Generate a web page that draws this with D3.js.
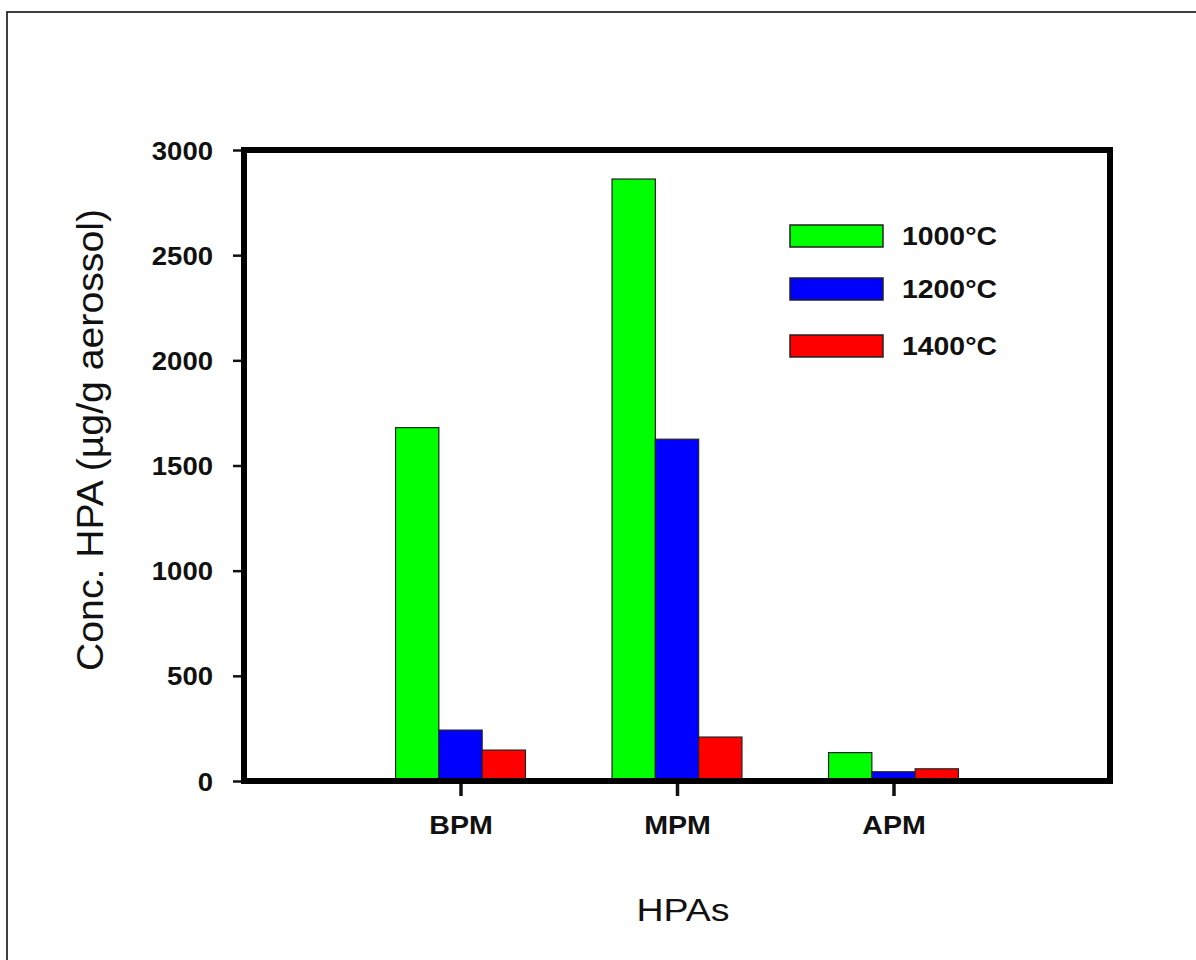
<!DOCTYPE html>
<html>
<head>
<meta charset="utf-8">
<script src="https://cdn.jsdelivr.net/npm/d3@7"></script>
<style>
  html, body { margin: 0; padding: 0; background: #fff; }
  svg { display: block; }
  text { font-family: Arial, "Liberation Sans", sans-serif; fill: #111; }
</style>
</head>
<body>
<svg id="chart" width="1196" height="960"></svg>
<script>
// ---- data ----
const categories = ["BPM", "MPM", "APM"];
const seriesNames = ["1000°C", "1200°C", "1400°C"];
const series1000 = [1680, 2862, 135];
const series1200 = [242, 1625, 44];
const series1400 = [147, 209, 58];
const seriesColors = ["#00ff00", "#0000ff", "#ff0000"];
const yTicks = [0, 500, 1000, 1500, 2000, 2500, 3000];
const xTitle = "HPAs";
const yTitle = "Conc. HPA (µg/g aerossol)";

const allSeries = [series1000, series1200, series1400];

const svg = d3.select("#chart");

// outer frame (extends beyond the right and bottom edges)
svg.append("rect")
  .attr("x", 7).attr("y", 12)
  .attr("width", 1300).attr("height", 1100)
  .attr("fill", "#fff").attr("stroke", "#111").attr("stroke-width", 1.6);

const plot = { left: 244, right: 1110, top: 150, bottom: 781 };

const x = d3.scaleLinear().domain([0, categories.length + 1]).range([plot.left, plot.right]);
const y = d3.scaleLinear().domain([0, 3000]).range([plot.bottom, plot.top]);

const barW = 0.2;
const offsets = [-0.3, -0.1, 0.1];

// bars
allSeries.forEach((vals, si) => {
  svg.append("g").selectAll("rect")
    .data(vals)
    .join("rect")
    .attr("x", (d, i) => x(i + 1 + offsets[si]))
    .attr("width", (d, i) => x(i + 1 + offsets[si] + barW) - x(i + 1 + offsets[si]))
    .attr("y", d => y(d))
    .attr("height", d => y(0) - y(d))
    .attr("fill", seriesColors[si])
    .attr("stroke", "#222")
    .attr("stroke-width", 1.2);
});

// y axis
const yAxis = svg.append("g")
  .attr("transform", `translate(${plot.left},0)`)
  .call(d3.axisLeft(y).tickValues(yTicks).tickSize(11).tickPadding(20).tickFormat(d3.format("d")));
yAxis.select(".domain").remove();
yAxis.selectAll(".tick line").attr("stroke", "#111").attr("stroke-width", 2.5);
yAxis.selectAll(".tick text")
  .style("font-family", "Arial, 'Liberation Sans', sans-serif")
  .style("font-size", "25px").style("font-weight", "bold").attr("fill", "#111")
  .attr("dy", "0.36em")
  .each(function() {
    const t = d3.select(this);
    const len = this.getComputedTextLength();
    t.attr("textLength", len * 1.1).attr("lengthAdjust", "spacingAndGlyphs");
  });

// x axis
const xAxis = svg.append("g")
  .attr("transform", `translate(0,${plot.bottom})`)
  .call(d3.axisBottom(x).tickValues(categories.map((c, i) => i + 1))
    .tickFormat((d) => categories[d - 1]).tickSize(15).tickPadding(20));
xAxis.select(".domain").remove();
xAxis.selectAll(".tick line").attr("stroke", "#111").attr("stroke-width", 3.5);
xAxis.selectAll(".tick text")
  .style("font-family", "Arial, 'Liberation Sans', sans-serif")
  .style("font-size", "26px").style("font-weight", "bold").attr("fill", "#111")
  .attr("dy", "0.71em")
  .each(function() {
    const len = this.getComputedTextLength();
    d3.select(this).attr("textLength", len * 1.1).attr("lengthAdjust", "spacingAndGlyphs");
  });

// frame of plot
svg.append("rect")
  .attr("x", plot.left).attr("y", plot.top)
  .attr("width", plot.right - plot.left).attr("height", plot.bottom - plot.top)
  .attr("fill", "none").attr("stroke", "#000").attr("stroke-width", 6);

// legend
const legendRows = [236, 289, 346];
const lg = svg.append("g");
seriesNames.forEach((name, i) => {
  lg.append("rect")
    .attr("x", 790).attr("y", legendRows[i] - 11)
    .attr("width", 93).attr("height", 22)
    .attr("fill", seriesColors[i]).attr("stroke", "#222").attr("stroke-width", 1.5);
  lg.append("text")
    .attr("x", 902).attr("y", legendRows[i]).attr("dy", "0.36em")
    .style("font-size", "25px").style("font-weight", "bold")
    .attr("textLength", 95).attr("lengthAdjust", "spacingAndGlyphs")
    .text(name);
});

// axis titles
svg.append("text")
  .attr("x", 683).attr("y", 921)
  .attr("text-anchor", "middle")
  .style("font-size", "31px")
  .attr("textLength", 93).attr("lengthAdjust", "spacingAndGlyphs")
  .text(xTitle);

svg.append("text")
  .attr("transform", "translate(103,440) rotate(-90)")
  .attr("text-anchor", "middle")
  .style("font-size", "36px")
  .attr("textLength", 462).attr("lengthAdjust", "spacingAndGlyphs")
  .text(yTitle);
</script>
</body>
</html>
